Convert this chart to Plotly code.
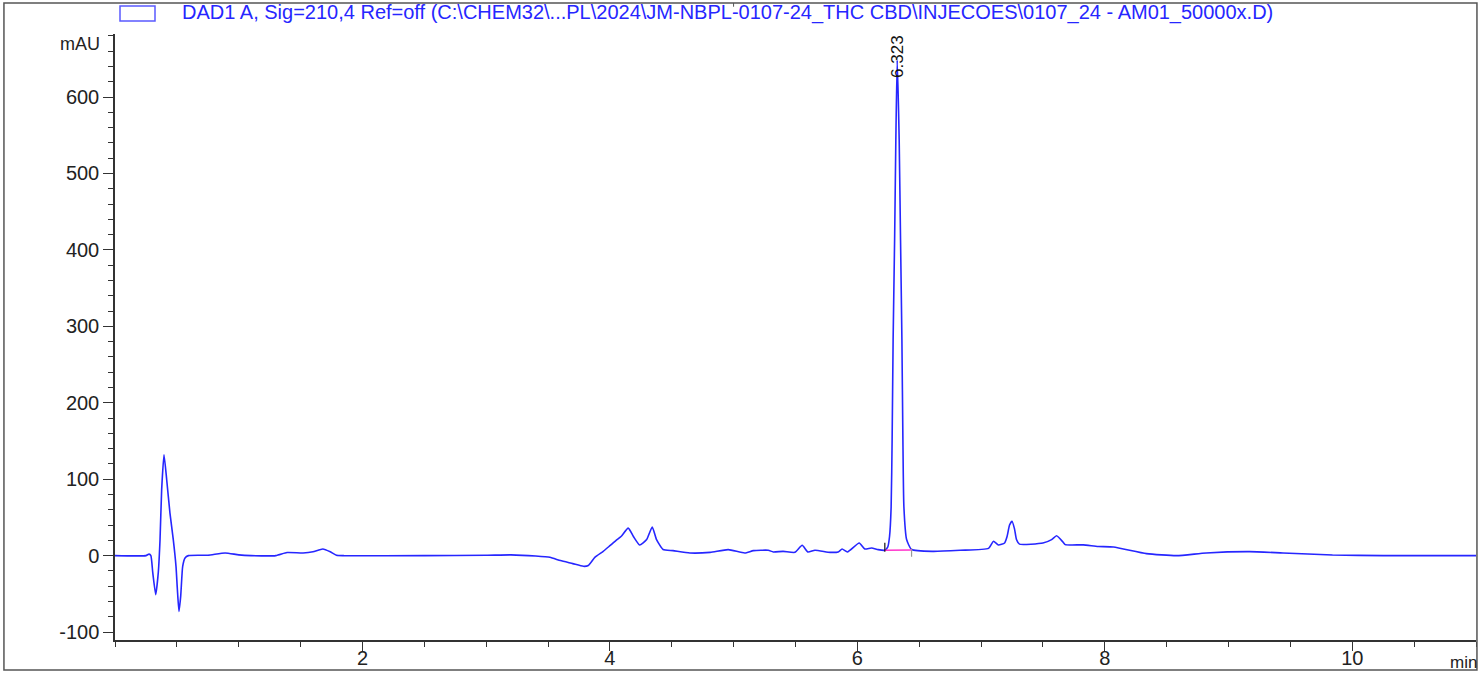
import plotly.graph_objects as go

# ---- data ----
time_min = [0.00, 0.25, 0.275, 0.29, 0.305, 0.329, 0.350, 0.364, 0.377, 0.396, 0.418, 0.444, 0.471,
            0.493, 0.504, 0.517, 0.531, 0.547, 0.566, 0.593, 0.75, 0.89, 1.0, 1.1, 1.30, 1.39, 1.52,
            1.60, 1.68, 1.74, 1.79, 1.85, 2.5, 3.0, 3.2, 3.4, 3.515, 3.6, 3.70, 3.785, 3.825, 3.88,
            3.946, 4.00, 4.05, 4.09, 4.148, 4.19, 4.24, 4.297, 4.342, 4.377, 4.43, 4.51, 4.646, 4.81,
            4.956, 5.09, 5.16, 5.28, 5.32, 5.40, 5.495, 5.554, 5.60, 5.657, 5.78, 5.845, 5.877, 5.92,
            6.015, 6.06, 6.115, 6.168, 6.222, 6.245, 6.260, 6.273, 6.281, 6.289, 6.301, 6.311, 6.322,
            6.338, 6.349, 6.360, 6.368, 6.376, 6.398, 6.438, 6.61, 6.83, 7.06, 7.10, 7.14, 7.19, 7.21,
            7.23, 7.25, 7.27, 7.286, 7.31, 7.50, 7.57, 7.61, 7.663, 7.68, 7.825, 7.946, 8.07, 8.337,
            8.58, 8.82, 9.17, 9.44, 9.84, 10.25, 11.0]
signal_mau = [0, 0, 2, 0, -22, -51, -22, 21, 86, 132, 99, 56, 21,
              -14, -44, -73, -53, -14, -3, 0, 0.5, 3.5, 1, 0, 0, 4, 3.5,
              5, 8.7, 5, 0.5, 0, 0, 0.5, 1, -0.5, -2.2, -6.5, -10.5, -14, -13, -2,
              5.6, 13, 20, 25, 36, 25, 14, 21, 37.5, 21, 8, 6.5, 3.5, 4.3,
              7.8, 3.5, 6.5, 7, 4.8, 5.6, 4.3, 13.5, 4.8, 7, 4.3, 4.8, 8.7, 4.8,
              16.5, 8.7, 10, 7.8, 7, 11, 25, 64, 152, 282, 413, 544, 648,
              544, 413, 282, 152, 64, 21, 8, 5.6, 7, 9.5, 18.7, 14, 16.5, 25,
              40, 45, 35, 21, 15, 16.5, 21, 26, 17.5, 14.4, 14, 12, 11.3, 2.6,
              0, 3.5, 5.2, 3.5, 0.9, 0, 0]

peak_rt = [6.323]
peak_label = ["6.323"]
peak_label_y = [653]
baseline_t = [6.222, 6.438]
baseline_v = [7, 7.5]

x_tickvals = [2, 4, 6, 8, 10]
x_ticktext = ["2", "4", "6", "8", "10"]
y_tickvals = [-100, 0, 100, 200, 300, 400, 500, 600]
y_ticktext = ["-100", "0", "100", "200", "300", "400", "500", "600"]

legend_text = ("DAD1 A, Sig=210,4 Ref=off (C:\\CHEM32\\...PL\\2024\\JM-NBPL-0107-24_THC CBD"
               "\\INJECOES\\0107_24 - AM01_50000x.D)")

x_range = [0, 11.0]
y_range = [-110.4, 682.5]

FONT = "Liberation Sans, Arial, sans-serif"
BLUE = "#2626ff"

fig = go.Figure()
fig.add_trace(go.Scatter(x=time_min, y=signal_mau, mode="lines",
                         line=dict(color=BLUE, width=1.6, shape="spline", smoothing=0.5),
                         showlegend=False, hoverinfo="skip"))
fig.add_trace(go.Scatter(x=baseline_t, y=baseline_v, mode="lines",
                         line=dict(color="#ff33cc", width=1.5),
                         showlegend=False, hoverinfo="skip"))

# integration tick marks
fig.add_shape(type="line", xref="x", yref="y", x0=baseline_t[0], x1=baseline_t[0],
              y0=baseline_v[0] - 2, y1=baseline_v[0] + 10, line=dict(color="#111111", width=1.2))
fig.add_shape(type="line", xref="x", yref="y", x0=baseline_t[1], x1=baseline_t[1],
              y0=baseline_v[1] - 9, y1=baseline_v[1] + 2, line=dict(color="#999999", width=1.2))

# peak label
for rt, lab, ly in zip(peak_rt, peak_label, peak_label_y):
    fig.add_annotation(x=rt, y=ly, xref="x", yref="y", text=lab, textangle=-90,
                       showarrow=False, font=dict(family=FONT, size=17, color="#111111"))

# outer frame
fig.add_shape(type="rect", xref="paper", yref="paper", x0=-0.0816, x1=1.0007,
              y0=-0.0495, y1=1.0512, line=dict(color="#555555", width=1.5), layer="above")
fig.add_shape(type="line", xref="paper", yref="paper", x0=0.4545, x1=0.4545,
              y0=1.0512, y1=1.045, line=dict(color="#555555", width=1))

# legend sample box + text
fig.add_shape(type="rect", xref="paper", yref="paper", x0=(120 - 115) / 1361, x1=(155 - 115) / 1361,
              y0=(640 - 21) / 606, y1=(640 - 6) / 606, line=dict(color="#5a5aff", width=1.5),
              fillcolor="white")
fig.add_annotation(x=(180 - 115) / 1361, y=(640 - 13) / 606, xref="paper", yref="paper",
                   xanchor="left", yanchor="middle", text=legend_text, showarrow=False,
                   font=dict(family=FONT, size=20, color=BLUE))

# axis unit labels
fig.add_annotation(x=(102 - 115) / 1361, y=(640 - 44) / 606, xref="paper", yref="paper",
                   xanchor="right", yanchor="middle", text="mAU", showarrow=False,
                   font=dict(family=FONT, size=18, color="#222222"))
fig.add_annotation(x=1.002, y=(640 - 662) / 606, xref="paper", yref="paper",
                   xanchor="right", yanchor="middle", text="min", showarrow=False,
                   font=dict(family=FONT, size=17, color="#222222"))

fig.update_layout(
    width=1484, height=673, autosize=False,
    margin=dict(l=115, r=8, t=34, b=33),
    paper_bgcolor="white", plot_bgcolor="white",
    font=dict(family=FONT, size=20, color="#222222"),
    xaxis=dict(range=x_range, automargin=False, showgrid=False, zeroline=False, showline=True,
               linecolor="#333333", linewidth=1.5, ticks="outside", ticklen=9, tickwidth=1.2,
               tickcolor="#333333", ticklabelstandoff=-10,
               tickvals=x_tickvals, ticktext=x_ticktext,
               tickfont=dict(family=FONT, size=20, color="#222222"),
               minor=dict(ticks="outside", ticklen=5, tickwidth=1.2, tickcolor="#333333",
                          tick0=0, dtick=0.5)),
    yaxis=dict(range=y_range, automargin=False, showgrid=False, zeroline=False, showline=True,
               linecolor="#333333", linewidth=1.5, ticks="outside", ticklen=10, tickwidth=1.2,
               tickcolor="#333333", tickvals=y_tickvals, ticktext=y_ticktext,
               tickfont=dict(family=FONT, size=20, color="#222222"),
               minor=dict(ticks="outside", ticklen=5, tickwidth=1.2, tickcolor="#333333",
                          tick0=0, dtick=20)),
)

post = ("document.documentElement.style.margin='0';document.documentElement.style.overflow='hidden';"
        "document.body.style.margin='0';document.body.style.padding='0';document.body.style.overflow='hidden';")

fig.write_html("out.html", config=dict(displayModeBar=False), post_script=post)
